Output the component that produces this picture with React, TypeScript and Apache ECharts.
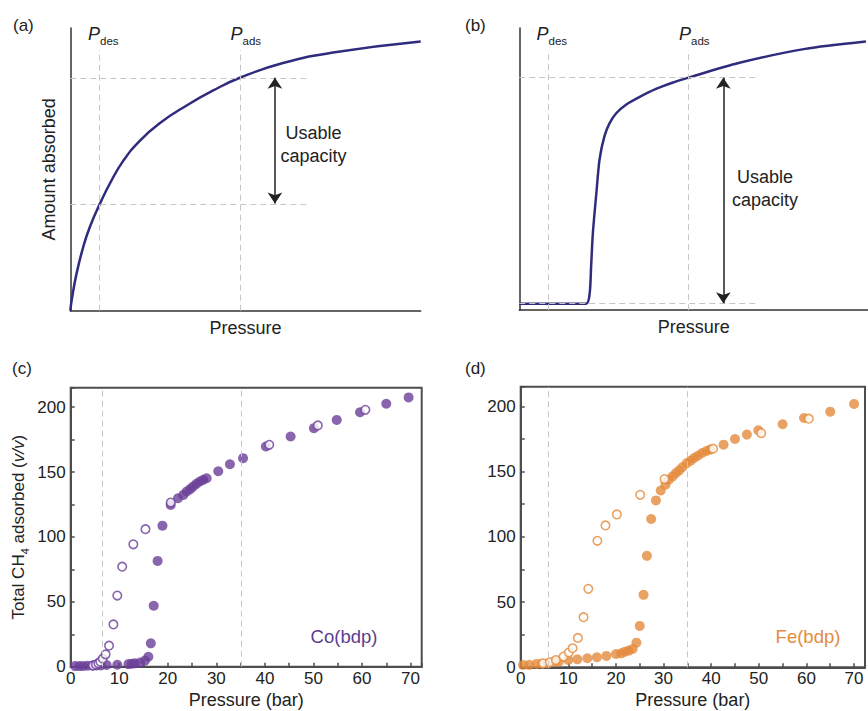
import { useEffect, useRef } from 'react';
import * as echarts from 'echarts';

const FONT = '"Liberation Sans", Arial, Helvetica, sans-serif';
const INK = '#222222';
const AXIS = '#4d4d4d';
const NAVY = '#2f2c7e';
const PURPLE = '#6a3f98';
const ORANGE = '#e38b3c';
const GUIDE = '#c6c6c6';

// (a) gradual (Langmuir-type) isotherm, schematic units
const isothermA: [number, number][] = [
  [0, 0], [0.4, 3.8], [1.8, 13.2], [3.7, 22.6], [5.6, 29.7], [8.4, 37.7], [11.3, 45.0],
  [15.1, 53.0], [19.9, 60.2], [25.6, 66.4], [33.2, 72.6], [40.8, 77.9], [48.4, 82.4],
  [60.7, 87.6], [75, 91.3], [100, 95.2],
];

// (b) stepped isotherm, schematic units
const isothermB: [number, number][] = [
  [0, 2.3], [19.2, 2.3], [20.2, 6.2], [20.6, 15.6], [21.1, 27.4], [22.1, 41.5], [23, 53.3],
  [24.4, 61.6], [25.9, 66.3], [27.8, 69.8], [30.6, 72.8], [34.4, 75.5], [39.2, 78.4],
  [43.9, 80.6], [48.5, 82.4], [62.9, 87.6], [82, 92.6], [99.4, 95.2],
];

// schematic guide positions: [P_des, P_ads] and capacity levels
const schemePA = [8.4, 48.4];
const schemeLevelsA = [37.7, 82.4];
const schemePB = [8.3, 48.5];
const schemeLevelsB = [2.3, 82.4];

// (c) Co(bdp), CH4 total uptake (v/v) vs pressure (bar)
const coAds: [number, number][] = [
  [0.9, 0.5], [1.8, 0.5], [2.6, 0.6], [3.5, 0.7], [4.5, 0.8], [5.3, 0.9], [6.2, 1.0], [7.4, 1.3],
  [9.6, 1.5], [11.9, 2.0], [12.6, 2.3], [13.2, 2.6], [14.3, 3.2], [15.3, 4.7], [16.0, 7.7],
  [16.5, 18], [17.1, 47], [17.9, 81.5], [18.9, 108.7], [20.6, 124.7], [22.1, 129.8],
  [23.2, 132.4], [23.9, 135], [24.6, 136.8], [25.2, 138.8], [25.9, 140.9], [26.6, 142.7],
  [27.3, 144], [28, 145.2], [30.4, 150.6], [32.8, 156], [35.5, 160.7], [40.2, 169.7],
  [45.3, 177.4], [50.1, 183.8], [54.8, 190.2], [59.6, 196.1], [65, 202.6], [69.6, 207.5],
];
const coDes: [number, number][] = [
  [4.6, 1.0], [5.2, 1.7], [5.7, 2.6], [6.1, 3.9], [6.6, 6.2], [7.2, 9.5], [7.9, 16.2],
  [8.8, 32.6], [9.6, 54.8], [10.6, 77.1], [12.9, 94.3], [15.4, 106], [20.6, 126.5],
  [40.9, 171], [50.9, 185.9], [60.7, 198],
];
const coPressures = [6.4, 35.2];

// (d) Fe(bdp), CH4 total uptake (v/v) vs pressure (bar)
const feAds: [number, number][] = [
  [0.5, 1.8], [1.8, 1.9], [3.3, 2.6], [4.5, 2.8], [5.7, 3.0], [7.1, 4.1], [8.0, 4.3], [10, 5.6],
  [11.9, 6.1], [14, 6.9], [16, 7.7], [18, 8.7], [20, 10.2], [21.1, 10.7], [21.9, 12],
  [22.7, 12.8], [23.5, 14], [24.3, 18.9], [25, 31.7], [25.8, 55.5], [26.5, 85.4],
  [27.4, 113.6], [28.4, 127.9], [29.4, 135.5], [30.4, 139.9], [31.1, 143.7], [31.9, 146.3],
  [32.6, 148.8], [33.3, 150.9], [34, 153.5], [34.9, 156.5], [35.7, 158.3], [36.4, 160.4],
  [37.2, 162.1], [38.1, 164.2], [39, 165.7], [39.8, 166.8], [42.6, 170.6], [45, 174.9],
  [47.5, 178.3], [49.9, 181.6], [55, 186.2], [59.5, 191], [65, 195.9], [70, 201.8],
];
const feDes: [number, number][] = [
  [4.7, 3.1], [6.1, 3.8], [7.4, 5.6], [9, 8.2], [10.1, 11.3], [10.9, 14.6], [12, 22.5],
  [13.2, 38.4], [14.2, 60.1], [16.1, 96.9], [17.8, 108.7], [20.2, 117.1], [25.1, 132.2],
  [30.2, 144.2], [40.4, 167.5], [50.5, 179.5], [60.5, 190.5],
];
const fePressures = [5.7, 34.9];

const textStyle = (size: number, color = INK) => ({ fontSize: size, color, fontFamily: FONT });

function schematicAxes(gridIndex: number) {
  const line = { show: true, onZero: false, lineStyle: { color: '#333', width: 1.5 } };
  return {
    x: {
      type: 'value', gridIndex, min: 0, max: 100,
      axisLine: line, axisTick: { show: false }, axisLabel: { show: false }, splitLine: { show: false },
      name: 'Pressure', nameLocation: 'middle', nameGap: 8, nameTextStyle: textStyle(18),
    },
    y: {
      type: 'value', gridIndex, min: 0, max: 100,
      axisLine: line, axisTick: { show: false }, axisLabel: { show: false }, splitLine: { show: false },
      name: gridIndex === 0 ? 'Amount absorbed' : '', nameLocation: 'middle', nameRotate: 90,
      nameGap: 12, nameTextStyle: textStyle(18),
    },
  };
}

function dataAxes(gridIndex: number, yName: string) {
  const line = { show: true, onZero: false, lineStyle: { color: AXIS, width: 2 } };
  const tick = { show: true, inside: true, length: 4, lineStyle: { color: AXIS, width: 1.5 } };
  return {
    x: {
      type: 'value', gridIndex, min: 0, max: 72.3, interval: 5,
      axisLine: line, axisTick: tick, splitLine: { show: false },
      axisLabel: {
        margin: 3, ...textStyle(17),
        formatter: (v: number) => (Math.abs(v % 10) < 1e-6 ? String(v) : ''),
      },
      name: 'Pressure (bar)', nameLocation: 'middle', nameGap: 24, nameTextStyle: textStyle(18),
    },
    y: {
      type: 'value', gridIndex, min: 0, max: 215, interval: 25,
      axisLine: line, axisTick: tick, splitLine: { show: false },
      axisLabel: {
        margin: 5, ...textStyle(17),
        formatter: (v: number) => (Math.abs(v % 50) < 1e-6 ? String(v) : ''),
      },
      name: yName, nameLocation: 'middle', nameRotate: 90, nameGap: 40,
      nameTextStyle: {
        ...textStyle(17), lineHeight: 24,
        rich: {
          sub: { fontSize: 11, fontFamily: FONT, color: INK, lineHeight: 11, verticalAlign: 'bottom' },
          it: { fontSize: 17, fontFamily: FONT, color: INK, fontStyle: 'italic', lineHeight: 24 },
        },
      },
    },
  };
}

const guideStyle = { color: GUIDE, type: [6, 4], width: 1 };

function schematicGuides(xi: number, ps: number[], levels: number[], spanX: number, topY: number) {
  const lines: any[] = [];
  ps.forEach((p) => lines.push([{ coord: [p, 0] }, { coord: [p, topY] }]));
  levels.forEach((l) => lines.push([{ coord: [0, l] }, { coord: [spanX, l] }]));
  return {
    type: 'line', xAxisIndex: xi, yAxisIndex: xi, data: [], z: 3, silent: true,
    markLine: {
      silent: true, symbol: ['none', 'none'], label: { show: false },
      lineStyle: guideStyle, emphasis: { disabled: true }, data: lines,
    },
  };
}

function capacityArrow(xi: number, x: number, levels: number[]) {
  return {
    type: 'line', xAxisIndex: xi, yAxisIndex: xi, data: [], z: 4, silent: true,
    markLine: {
      silent: true, symbol: ['arrow', 'arrow'], symbolSize: [11, 11], label: { show: false },
      lineStyle: { color: '#222', type: 'solid', width: 1.5 }, emphasis: { disabled: true },
      data: [[{ coord: [x, levels[1]] }, { coord: [x, levels[0] + 0.2] }]],
    },
  };
}

function pressureGuides(xi: number, ps: number[]) {
  return {
    type: 'line', xAxisIndex: xi, yAxisIndex: xi, data: [], z: 1, silent: true,
    markLine: {
      silent: true, symbol: ['none', 'none'], label: { show: false },
      lineStyle: guideStyle, emphasis: { disabled: true },
      data: ps.map((p) => ({ xAxis: p })),
    },
  };
}

function scatterPair(xi: number, ads: [number, number][], des: [number, number][], color: string) {
  return [
    {
      type: 'scatter', xAxisIndex: xi, yAxisIndex: xi, data: ads, symbol: 'circle', symbolSize: 10,
      itemStyle: { color }, z: 2, silent: true,
    },
    {
      type: 'scatter', xAxisIndex: xi, yAxisIndex: xi, data: des, symbol: 'circle', symbolSize: 8.5,
      itemStyle: { color: '#ffffff', borderColor: color, borderWidth: 1.6 }, z: 3, silent: true,
    },
  ];
}

const pressureLabel = (x: number, sub: string) => ({
  type: 'text', x, y: 34,
  style: {
    text: `{p|P}{s|${sub}}`, verticalAlign: 'middle', fill: INK,
    rich: {
      p: { fontSize: 18, fontStyle: 'italic', fontFamily: FONT, fill: INK, lineHeight: 26 },
      s: { fontSize: 11.5, fontFamily: FONT, fill: INK, lineHeight: 12, verticalAlign: 'bottom' },
    },
  },
});

const panelLabel = (x: number, y: number, t: string) => ({
  type: 'text', x, y, style: { text: t, font: `17px ${FONT}`, fill: INK, verticalAlign: 'middle' },
});

const capacityText = (x: number, y: number) => ({
  type: 'text', x, y,
  style: {
    text: 'Usable\ncapacity', font: `18px ${FONT}`, fill: INK, align: 'center',
    verticalAlign: 'middle', lineHeight: 22.5,
  },
});

export default function App() {
  const ref = useRef<HTMLDivElement>(null);

  useEffect(() => {
    if (!ref.current) return;
    const chart = echarts.init(ref.current, undefined, { renderer: 'svg' });

    const aAx = schematicAxes(0);
    const bAx = schematicAxes(1);
    const cAx = dataAxes(2, 'Total CH{sub|4} adsorbed ({it|v/v})');
    const dAx = dataAxes(3, '');

    const option: any = {
      animation: false,
      backgroundColor: '#ffffff',
      textStyle: { fontFamily: FONT },
      grid: [
        { left: 70.3, top: 28, width: 350.4, height: 282.7, show: false },
        { left: 519.3, top: 28, width: 350.7, height: 282.2, show: false },
        { left: 70.7, top: 387.7, width: 351, height: 279, show: true, borderColor: AXIS, borderWidth: 2, backgroundColor: 'transparent' },
        { left: 520.7, top: 386.7, width: 350, height: 280.6, show: true, borderColor: AXIS, borderWidth: 2, backgroundColor: 'transparent' },
      ],
      xAxis: [aAx.x, bAx.x, cAx.x, dAx.x],
      yAxis: [aAx.y, bAx.y, cAx.y, dAx.y],
      series: [
        {
          type: 'line', xAxisIndex: 0, yAxisIndex: 0, data: isothermA, smooth: 0.5,
          showSymbol: false, silent: true,
          lineStyle: { color: NAVY, width: 2.5 }, z: 2,
        },
        schematicGuides(0, schemePA, schemeLevelsA, 68.3, 92.2),
        capacityArrow(0, 58.4, schemeLevelsA),
        {
          type: 'line', xAxisIndex: 1, yAxisIndex: 1, data: isothermB, smooth: 0.25,
          showSymbol: false, silent: true,
          lineStyle: { color: NAVY, width: 2.5 }, z: 2,
        },
        schematicGuides(1, schemePB, schemeLevelsB, 68.1, 92.2),
        capacityArrow(1, 58.5, schemeLevelsB),
        pressureGuides(2, coPressures),
        ...scatterPair(2, coAds, coDes, PURPLE),
        pressureGuides(3, fePressures),
        ...scatterPair(3, feAds, feDes, ORANGE),
      ],
      graphic: [
        panelLabel(13, 25, '(a)'),
        panelLabel(465, 25, '(b)'),
        panelLabel(12, 368, '(c)'),
        panelLabel(465, 368, '(d)'),
        pressureLabel(88, 'des'),
        pressureLabel(230.5, 'ads'),
        pressureLabel(536.5, 'des'),
        pressureLabel(679, 'ads'),
        capacityText(313.5, 144.3),
        capacityText(765, 188.3),
        {
          type: 'text', x: 344, y: 636,
          style: { text: 'Co(bdp)', font: `18.5px ${FONT}`, fill: '#5b3d8e', align: 'center', verticalAlign: 'middle' },
        },
        {
          type: 'text', x: 808, y: 636,
          style: { text: 'Fe(bdp)', font: `18.5px ${FONT}`, fill: ORANGE, align: 'center', verticalAlign: 'middle' },
        },
      ],
    };

    chart.setOption(option);
    return () => chart.dispose();
  }, []);

  return (
    <div
      ref={ref}
      style={{ position: 'fixed', left: 0, top: 0, width: 868, height: 711, background: '#fff' }}
    />
  );
}
